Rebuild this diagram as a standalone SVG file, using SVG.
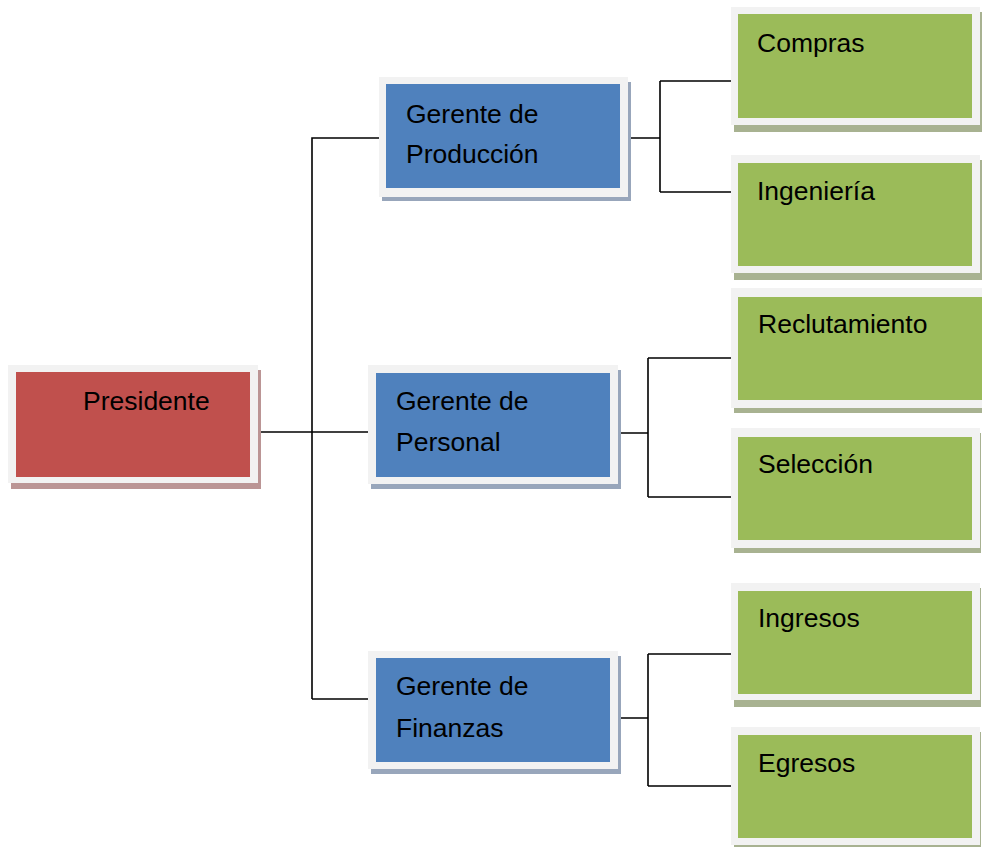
<svg xmlns="http://www.w3.org/2000/svg" width="982" height="847" viewBox="0 0 982 847">
<style>
.frame{fill:#f2f2f2}
.red{fill:#c0504d}
.blue{fill:#4f81bd}
.green{fill:#9bbb59}
.sh-red{fill:#bb9595}
.sh-blue{fill:#98a6bb}
.sh-green{fill:#a8b291}
.lbl{font-family:"Liberation Sans",Arial,sans-serif;font-size:26.5px;fill:#000}
.conn{stroke:#000;stroke-width:1.6;fill:none}
</style>
<rect width="982" height="847" fill="#fff"/>
<g id="connectors">
<path class="conn" d="M254 432H372"/>
<path class="conn" d="M312 699V138H382"/>
<path class="conn" d="M312 699H372"/>
<path class="conn" d="M624 138H660M660 81V192M660 81H734M660 192H734"/>
<path class="conn" d="M614 433H648M648 358V497M648 358H734M648 497H734"/>
<path class="conn" d="M614 718H648M648 654V786M648 654H734M648 786H734"/>
</g>
<g id="presidente">
<rect class="sh-red" x="11" y="370" width="250" height="119"/>
<rect class="frame" x="8" y="365" width="250" height="118"/>
<rect class="red" x="16" y="372" width="234" height="105"/>
<text class="lbl" x="83" y="410">Presidente</text>
</g>
<g id="gerente-produccion">
<rect class="sh-blue" x="382" y="82" width="249" height="119"/>
<rect class="frame" x="379" y="77" width="249" height="120"/>
<rect class="blue" x="386" y="84" width="234" height="104"/>
<text class="lbl" x="406" y="123">Gerente de</text>
<text class="lbl" x="406" y="163">Producción</text>
</g>
<g id="gerente-personal">
<rect class="sh-blue" x="371" y="370" width="250" height="119"/>
<rect class="frame" x="368" y="365" width="250" height="119"/>
<rect class="blue" x="376" y="373" width="234" height="104"/>
<text class="lbl" x="396" y="410">Gerente de</text>
<text class="lbl" x="396" y="451">Personal</text>
</g>
<g id="gerente-finanzas">
<rect class="sh-blue" x="371" y="656" width="250" height="118"/>
<rect class="frame" x="368" y="651" width="250" height="118"/>
<rect class="blue" x="376" y="658" width="234" height="104"/>
<text class="lbl" x="396" y="695">Gerente de</text>
<text class="lbl" x="396" y="737">Finanzas</text>
</g>
<g id="compras">
<rect class="sh-green" x="734" y="12" width="249" height="120"/>
<rect class="frame" x="731" y="7" width="249" height="118"/>
<rect class="green" x="738" y="14" width="234" height="104"/>
<text class="lbl" x="757" y="52">Compras</text>
</g>
<g id="ingenieria">
<rect class="sh-green" x="734" y="160" width="249" height="120"/>
<rect class="frame" x="731" y="155" width="249" height="118"/>
<rect class="green" x="738" y="163" width="234" height="103"/>
<text class="lbl" x="757" y="200">Ingeniería</text>
</g>
<g id="reclutamiento">
<rect class="sh-green" x="734" y="293" width="260" height="120"/>
<rect class="frame" x="731" y="288" width="260" height="120"/>
<rect class="green" x="738" y="297" width="250" height="103"/>
<text class="lbl" x="758" y="333">Reclutamiento</text>
</g>
<g id="seleccion">
<rect class="sh-green" x="734" y="433" width="247" height="120"/>
<rect class="frame" x="731" y="428" width="249" height="120"/>
<rect class="green" x="738" y="437" width="234" height="103"/>
<text class="lbl" x="758" y="473">Selección</text>
</g>
<g id="ingresos">
<rect class="sh-green" x="734" y="588" width="247" height="119"/>
<rect class="frame" x="731" y="583" width="249" height="117"/>
<rect class="green" x="738" y="591" width="234" height="103"/>
<text class="lbl" x="758" y="627">Ingresos</text>
</g>
<g id="egresos">
<rect class="sh-green" x="734" y="732" width="247" height="118"/>
<rect class="frame" x="731" y="727" width="249" height="118"/>
<rect class="green" x="738" y="735" width="234" height="103"/>
<text class="lbl" x="758" y="772">Egresos</text>
</g>
</svg>
